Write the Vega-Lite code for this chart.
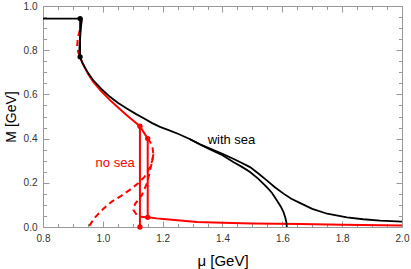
{
  "$schema": "https://vega.github.io/schema/vega-lite/v6.json",
  "width": 359,
  "height": 221,
  "autosize": {"type": "none"},
  "padding": {"left": 43, "top": 6, "right": 9, "bottom": 42},
  "background": "white",
  "config": {"view": {"stroke": null}, "axis": {"grid": false}},
  "datasets": {
    "red_solid": [
      {"s": "main", "i": 0, "mu": 0.924, "M": 0.77},
      {"s": "main", "i": 1, "mu": 0.931, "M": 0.744},
      {"s": "main", "i": 2, "mu": 0.94, "M": 0.72},
      {"s": "main", "i": 3, "mu": 0.952, "M": 0.69},
      {"s": "main", "i": 4, "mu": 0.968, "M": 0.657},
      {"s": "main", "i": 5, "mu": 0.995, "M": 0.614},
      {"s": "main", "i": 6, "mu": 1.024, "M": 0.574},
      {"s": "main", "i": 7, "mu": 1.05, "M": 0.542},
      {"s": "main", "i": 8, "mu": 1.08, "M": 0.506},
      {"s": "main", "i": 9, "mu": 1.1, "M": 0.483},
      {"s": "main", "i": 10, "mu": 1.124, "M": 0.456},
      {"s": "main", "i": 11, "mu": 1.15, "M": 0.4},
      {"s": "v1", "i": 0, "mu": 1.124, "M": 0.456},
      {"s": "v1", "i": 1, "mu": 1.124, "M": 0.0},
      {"s": "v2", "i": 0, "mu": 1.15, "M": 0.4},
      {"s": "v2", "i": 1, "mu": 1.15, "M": 0.044},
      {"s": "tail", "i": 0, "mu": 1.15, "M": 0.044},
      {"s": "tail", "i": 1, "mu": 1.18, "M": 0.039},
      {"s": "tail", "i": 2, "mu": 1.202, "M": 0.036},
      {"s": "tail", "i": 3, "mu": 1.25, "M": 0.03},
      {"s": "tail", "i": 4, "mu": 1.314, "M": 0.023},
      {"s": "tail", "i": 5, "mu": 1.4, "M": 0.019},
      {"s": "tail", "i": 6, "mu": 1.5, "M": 0.016},
      {"s": "tail", "i": 7, "mu": 1.66, "M": 0.0135},
      {"s": "tail", "i": 8, "mu": 1.8, "M": 0.01},
      {"s": "tail", "i": 9, "mu": 2.0, "M": 0.007}
    ],
    "red_dashed": [
      {"s": "chiral", "i": 0, "mu": 1.15, "M": 0.4},
      {"s": "chiral", "i": 1, "mu": 1.158, "M": 0.385},
      {"s": "chiral", "i": 2, "mu": 1.166, "M": 0.36},
      {"s": "chiral", "i": 3, "mu": 1.169, "M": 0.33},
      {"s": "chiral", "i": 4, "mu": 1.165, "M": 0.3},
      {"s": "chiral", "i": 5, "mu": 1.158, "M": 0.271},
      {"s": "chiral", "i": 6, "mu": 1.14, "M": 0.228},
      {"s": "chiral", "i": 7, "mu": 1.12, "M": 0.2},
      {"s": "chiral", "i": 8, "mu": 1.09, "M": 0.168},
      {"s": "chiral", "i": 9, "mu": 1.06, "M": 0.14},
      {"s": "chiral", "i": 10, "mu": 1.03, "M": 0.115},
      {"s": "chiral", "i": 11, "mu": 1.0, "M": 0.08},
      {"s": "chiral", "i": 12, "mu": 0.975, "M": 0.045},
      {"s": "chiral", "i": 13, "mu": 0.952, "M": 0.0},
      {"s": "massive", "i": 0, "mu": 1.169, "M": 0.33},
      {"s": "massive", "i": 1, "mu": 1.166, "M": 0.305},
      {"s": "massive", "i": 2, "mu": 1.157, "M": 0.25},
      {"s": "massive", "i": 3, "mu": 1.147, "M": 0.196},
      {"s": "massive", "i": 4, "mu": 1.13, "M": 0.143},
      {"s": "massive", "i": 5, "mu": 1.108, "M": 0.105},
      {"s": "massive", "i": 6, "mu": 1.102, "M": 0.078},
      {"s": "massive", "i": 7, "mu": 1.113, "M": 0.055},
      {"s": "massive", "i": 8, "mu": 1.128, "M": 0.046},
      {"s": "massive", "i": 9, "mu": 1.15, "M": 0.044},
      {"s": "loop", "i": 0, "mu": 0.929, "M": 0.935},
      {"s": "loop", "i": 1, "mu": 0.925, "M": 0.9},
      {"s": "loop", "i": 2, "mu": 0.917, "M": 0.86},
      {"s": "loop", "i": 3, "mu": 0.914, "M": 0.82},
      {"s": "loop", "i": 4, "mu": 0.918, "M": 0.79},
      {"s": "loop", "i": 5, "mu": 0.924, "M": 0.77}
    ],
    "black": [
      {"s": "h", "i": 0, "mu": 0.8, "M": 0.943},
      {"s": "h", "i": 1, "mu": 0.924, "M": 0.943},
      {"s": "v", "i": 0, "mu": 0.924, "M": 0.943},
      {"s": "v", "i": 1, "mu": 0.924, "M": 0.77},
      {"s": "loop", "i": 0, "mu": 0.924, "M": 0.943},
      {"s": "loop", "i": 1, "mu": 0.93, "M": 0.941},
      {"s": "loop", "i": 2, "mu": 0.928, "M": 0.92},
      {"s": "loop", "i": 3, "mu": 0.925, "M": 0.87},
      {"s": "loop", "i": 4, "mu": 0.922, "M": 0.82},
      {"s": "loop", "i": 5, "mu": 0.922, "M": 0.79},
      {"s": "loop", "i": 6, "mu": 0.924, "M": 0.77},
      {"s": "main", "i": 0, "mu": 0.924, "M": 0.77},
      {"s": "main", "i": 1, "mu": 0.931, "M": 0.745},
      {"s": "main", "i": 2, "mu": 0.94, "M": 0.722},
      {"s": "main", "i": 3, "mu": 0.952, "M": 0.694},
      {"s": "main", "i": 4, "mu": 0.968, "M": 0.664},
      {"s": "main", "i": 5, "mu": 0.995, "M": 0.625},
      {"s": "main", "i": 6, "mu": 1.024, "M": 0.589},
      {"s": "main", "i": 7, "mu": 1.05, "M": 0.562},
      {"s": "main", "i": 8, "mu": 1.08, "M": 0.536},
      {"s": "main", "i": 9, "mu": 1.11, "M": 0.512},
      {"s": "main", "i": 10, "mu": 1.135, "M": 0.493},
      {"s": "main", "i": 11, "mu": 1.165, "M": 0.47},
      {"s": "main", "i": 12, "mu": 1.191, "M": 0.453},
      {"s": "main", "i": 13, "mu": 1.22, "M": 0.438},
      {"s": "main", "i": 14, "mu": 1.253, "M": 0.421},
      {"s": "main", "i": 15, "mu": 1.29, "M": 0.398},
      {"s": "main", "i": 16, "mu": 1.325, "M": 0.374},
      {"s": "main", "i": 17, "mu": 1.37, "M": 0.348},
      {"s": "main", "i": 18, "mu": 1.4, "M": 0.331},
      {"s": "main", "i": 19, "mu": 1.436, "M": 0.309},
      {"s": "main", "i": 20, "mu": 1.46, "M": 0.293},
      {"s": "main", "i": 21, "mu": 1.492, "M": 0.271},
      {"s": "main", "i": 22, "mu": 1.52, "M": 0.242},
      {"s": "main", "i": 23, "mu": 1.548, "M": 0.211},
      {"s": "main", "i": 24, "mu": 1.575, "M": 0.18},
      {"s": "main", "i": 25, "mu": 1.604, "M": 0.151},
      {"s": "main", "i": 26, "mu": 1.63, "M": 0.128},
      {"s": "main", "i": 27, "mu": 1.66, "M": 0.108},
      {"s": "main", "i": 28, "mu": 1.7, "M": 0.082},
      {"s": "main", "i": 29, "mu": 1.75, "M": 0.06},
      {"s": "main", "i": 30, "mu": 1.816, "M": 0.044},
      {"s": "main", "i": 31, "mu": 1.87, "M": 0.035},
      {"s": "main", "i": 32, "mu": 1.927, "M": 0.029},
      {"s": "main", "i": 33, "mu": 2.0, "M": 0.024},
      {"s": "chiral", "i": 0, "mu": 1.29, "M": 0.398},
      {"s": "chiral", "i": 1, "mu": 1.325, "M": 0.373},
      {"s": "chiral", "i": 2, "mu": 1.36, "M": 0.35},
      {"s": "chiral", "i": 3, "mu": 1.4, "M": 0.325},
      {"s": "chiral", "i": 4, "mu": 1.436, "M": 0.294},
      {"s": "chiral", "i": 5, "mu": 1.465, "M": 0.272},
      {"s": "chiral", "i": 6, "mu": 1.492, "M": 0.249},
      {"s": "chiral", "i": 7, "mu": 1.52, "M": 0.218},
      {"s": "chiral", "i": 8, "mu": 1.548, "M": 0.18},
      {"s": "chiral", "i": 9, "mu": 1.565, "M": 0.155},
      {"s": "chiral", "i": 10, "mu": 1.582, "M": 0.12},
      {"s": "chiral", "i": 11, "mu": 1.595, "M": 0.092},
      {"s": "chiral", "i": 12, "mu": 1.604, "M": 0.067},
      {"s": "chiral", "i": 13, "mu": 1.61, "M": 0.042},
      {"s": "chiral", "i": 14, "mu": 1.613, "M": 0.025},
      {"s": "chiral", "i": 15, "mu": 1.615, "M": 0.0}
    ],
    "points": [
      {"case": "with sea", "mu": 0.924, "M": 0.943},
      {"case": "with sea", "mu": 0.924, "M": 0.77},
      {"case": "no sea", "mu": 1.124, "M": 0.456},
      {"case": "no sea", "mu": 1.15, "M": 0.4},
      {"case": "no sea", "mu": 1.15, "M": 0.044},
      {"case": "no sea", "mu": 1.124, "M": 0.0}
    ],
    "labels": [
      {"case": "with sea", "mu": 1.43, "M": 0.377},
      {"case": "no sea", "mu": 1.041, "M": 0.271}
    ]
  },
  "resolve": {"axis": {"x": "independent", "y": "independent"}},
  "layer": [
    {
      "data": {"name": "red_solid"},
      "mark": {"type": "line", "color": "#ff0000", "strokeWidth": 2},
      "encoding": {
        "x": {"field": "mu", "type": "quantitative", "scale": {"domain": [0.8, 2.0], "nice": false, "zero": false},
          "axis": {"orient": "bottom", "values": [0.8, 1.0, 1.2, 1.4, 1.6, 1.8, 2.0], "format": ".1f", "tickSize": -6, "tickColor": "#999", "domainColor": "#999", "labelPadding": 12, "labelFontSize": 10, "labelFont": "Liberation Sans", "labelColor": "#333", "labelFlush": false, "labelOverlap": false, "title": "μ [GeV]", "titleFont": "Liberation Sans", "titleFontSize": 15, "titleFontWeight": "normal", "titleColor": "#000", "titlePadding": 10}},
        "y": {"field": "M", "type": "quantitative", "scale": {"domain": [0, 1], "nice": false, "zero": false},
          "axis": {"orient": "left", "values": [0, 0.2, 0.4, 0.6, 0.8, 1.0], "format": ".1f", "tickSize": -6, "tickColor": "#999", "domainColor": "#999", "labelPadding": 12, "labelFontSize": 10, "labelFont": "Liberation Sans", "labelColor": "#333", "labelFlush": false, "labelOverlap": false, "title": "M [GeV]", "titleFont": "Liberation Sans", "titleFontSize": 14, "titleFontWeight": "normal", "titleColor": "#000", "titlePadding": 5}},
        "detail": {"field": "s"},
        "order": {"field": "i", "type": "quantitative"}
      }
    },
    {
      "data": {"name": "red_dashed"},
      "mark": {"type": "line", "color": "#ff0000", "strokeWidth": 2, "strokeDash": [6, 4]},
      "encoding": {
        "x": {"field": "mu", "type": "quantitative",
          "axis": {"orient": "bottom", "values": [0.85, 0.9, 0.95, 1.05, 1.1, 1.15, 1.25, 1.3, 1.35, 1.45, 1.5, 1.55, 1.65, 1.7, 1.75, 1.85, 1.9, 1.95], "tickSize": -3.5, "tickColor": "#999", "labels": false, "domain": false, "title": null}},
        "y": {"field": "M", "type": "quantitative",
          "axis": {"orient": "left", "values": [0.05, 0.1, 0.15, 0.25, 0.3, 0.35, 0.45, 0.5, 0.55, 0.65, 0.7, 0.75, 0.85, 0.9, 0.95], "tickSize": -3.5, "tickColor": "#999", "labels": false, "domain": false, "title": null}},
        "detail": {"field": "s"},
        "order": {"field": "i", "type": "quantitative"}
      }
    },
    {
      "data": {"name": "black"},
      "mark": {"type": "line", "color": "#000000", "strokeWidth": 1.8},
      "encoding": {
        "x": {"field": "mu", "type": "quantitative",
          "axis": {"orient": "top", "values": [0.8, 1.0, 1.2, 1.4, 1.6, 1.8, 2.0], "tickSize": -6, "tickColor": "#999", "domainColor": "#999", "labels": false, "title": null}},
        "y": {"field": "M", "type": "quantitative",
          "axis": {"orient": "right", "values": [0, 0.2, 0.4, 0.6, 0.8, 1.0], "tickSize": -6, "tickColor": "#999", "domainColor": "#999", "labels": false, "title": null}},
        "detail": {"field": "s"},
        "order": {"field": "i", "type": "quantitative"}
      }
    },
    {
      "data": {"name": "points"},
      "mark": {"type": "point", "filled": true, "size": 28, "opacity": 1},
      "encoding": {
        "x": {"field": "mu", "type": "quantitative",
          "axis": {"orient": "top", "values": [0.85, 0.9, 0.95, 1.05, 1.1, 1.15, 1.25, 1.3, 1.35, 1.45, 1.5, 1.55, 1.65, 1.7, 1.75, 1.85, 1.9, 1.95], "tickSize": -3.5, "tickColor": "#999", "labels": false, "domain": false, "title": null}},
        "y": {"field": "M", "type": "quantitative",
          "axis": {"orient": "right", "values": [0.05, 0.1, 0.15, 0.25, 0.3, 0.35, 0.45, 0.5, 0.55, 0.65, 0.7, 0.75, 0.85, 0.9, 0.95], "tickSize": -3.5, "tickColor": "#999", "labels": false, "domain": false, "title": null}},
        "color": {"field": "case", "type": "nominal", "scale": {"domain": ["with sea", "no sea"], "range": ["#000000", "#ff0000"]}, "legend": null}
      }
    },
    {
      "data": {"name": "labels"},
      "mark": {"type": "text", "font": "Liberation Sans", "fontSize": 13, "align": "center", "baseline": "alphabetic"},
      "encoding": {
        "x": {"field": "mu", "type": "quantitative", "axis": null},
        "y": {"field": "M", "type": "quantitative", "axis": null},
        "text": {"field": "case"},
        "color": {"field": "case", "type": "nominal", "scale": {"domain": ["with sea", "no sea"], "range": ["#000000", "#ff0000"]}, "legend": null}
      }
    }
  ]
}
